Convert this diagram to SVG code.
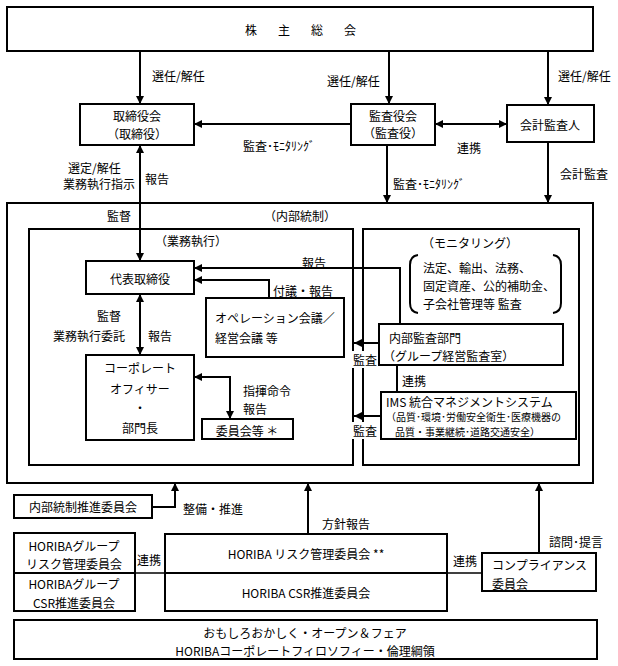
<svg xmlns="http://www.w3.org/2000/svg" width="618" height="666" viewBox="0 0 618 666">
<style>
.box{fill:#fff;stroke:#000;stroke-width:2}
.ln{fill:none;stroke:#000;stroke-width:2}
.thin{fill:none;stroke:#000;stroke-width:1.5}
.arr{marker-end:url(#ah)}
.dbl{marker-start:url(#ah);marker-end:url(#ah)}
text{font-family:'Noto Sans CJK JP','Noto Sans CJK SC',sans-serif;font-size:12px;fill:#000;dominant-baseline:central}
.c{text-anchor:middle}
.s{font-size:10px}
.bg{fill:#fff;stroke:none}
</style>
<defs>
<marker id="ah" viewBox="0 0 8 8" refX="8" refY="4" markerWidth="8" markerHeight="8" markerUnits="userSpaceOnUse" orient="auto-start-reverse"><path d="M0,0 L8,4 L0,8 z" fill="#000"/></marker>
</defs>
<rect width="618" height="666" fill="#fff"/>

<g id="internal-control"><rect class="box" x="7" y="203" width="586" height="280"/><text class="c" x="300" y="215">（内部統制）</text></g>
<g id="execution"><rect class="box" x="29" y="229" width="324" height="236"/><text class="c" x="191" y="240">（業務執行）</text></g>
<g id="monitoring"><rect class="box" x="363" y="229" width="216" height="236"/><text class="c" x="470" y="242">（モニタリング）</text>
<path class="ln" d="M418,255 Q410,256 410,265 V303 Q410,312 418,313"/>
<path class="ln" d="M553,255 Q561,256 561,265 V303 Q561,312 553,313"/>
<text x="423" y="267">法定、輸出、法務、</text>
<text x="423" y="285">固定資産、公的補助金、</text>
<text x="423" y="303">子会社管理等 監査</text>
</g>

<g id="shareholders"><rect class="box" x="7" y="7" width="586" height="44"/><text x="245" y="29" font-size="15" textLength="111" lengthAdjust="spacing">株 主 総 会</text></g>
<g id="board"><rect class="box" x="80" y="104" width="114" height="41"/><text class="c" x="137" y="115">取締役会</text><text class="c" x="137" y="133">（取締役）</text></g>
<g id="audit-board"><rect class="box" x="351" y="104" width="84" height="41"/><text class="c" x="393" y="115">監査役会</text><text class="c" x="393" y="132">（監査役）</text></g>
<g id="accounting-auditor"><rect class="box" x="507" y="105" width="87" height="37"/><text class="c" x="550" y="124">会計監査人</text></g>
<g id="representative"><rect class="box" x="86" y="261" width="108" height="33"/><text class="c" x="140" y="278">代表取締役</text></g>
<g id="operation-meeting"><rect class="box" x="206" y="298" width="138" height="59"/><text x="215" y="317">オペレーション会議／</text><text x="215" y="337">経営会議 等</text></g>
<g id="corporate-officer"><rect class="box" x="86" y="355" width="108" height="85"/><text class="c" x="140" y="367">コーポレート</text><text class="c" x="140" y="388">オフィサー</text><text class="c" x="140" y="407">・</text><text class="c" x="140" y="427">部門長</text></g>
<g id="committees"><rect class="box" x="202" y="419" width="91" height="20"/><text class="c" x="247" y="430">委員会等 ＊</text></g>
<g id="internal-audit"><rect class="box" x="379" y="324" width="184" height="41"/><text x="389" y="337">内部監査部門</text><text x="383" y="355">（グループ経営監査室）</text></g>
<g id="ims"><rect class="box" x="381" y="392" width="195" height="47"/><text x="386" y="401">IMS 統合マネジメントシステム</text><text class="s" x="386" y="416.5">（品質･環境･労働安全衛生･医療機器の</text><text class="s" x="395" y="431">品質・事業継続･道路交通安全）</text></g>

<g id="ic-promotion"><rect class="box" x="14" y="495" width="138" height="23"/><text class="c" x="83" y="506">内部統制推進委員会</text></g>
<g id="group-risk"><rect class="box" x="14" y="533" width="121" height="40"/><text class="c" x="74" y="545">HORIBAグループ</text><text class="c" x="74" y="563">リスク管理委員会</text></g>
<g id="group-csr"><rect class="box" x="14" y="573" width="121" height="38"/><text class="c" x="74" y="583">HORIBAグループ</text><text class="c" x="74" y="602">CSR推進委員会</text></g>
<g id="risk"><rect class="box" x="165" y="534" width="282" height="39"/><text class="c" x="306" y="553">HORIBA リスク管理委員会 **</text></g>
<g id="csr"><rect class="box" x="165" y="573" width="282" height="38"/><text class="c" x="306" y="592">HORIBA CSR推進委員会</text></g>
<g id="compliance"><rect class="box" x="482" y="553" width="114" height="38"/><text x="492" y="564">コンプライアンス</text><text x="492" y="583">委員会</text></g>
<g id="philosophy"><rect class="box" x="14" y="620" width="583" height="39"/><text class="c" x="305" y="632">おもしろおかしく・オープン＆フェア</text><text class="c" x="305" y="650">HORIBAコーポレートフィロソフィー・倫理綱領</text></g>

<g id="connectors">
<path class="ln arr" d="M140,51 V104"/>
<path class="ln arr" d="M389,51 V104"/>
<path class="ln arr" d="M548,51 V105"/>
<path class="ln arr" d="M351,124 H194"/>
<path class="ln dbl" d="M435,124 H507"/>
<path class="ln arr" d="M387,145 V203"/>
<path class="ln arr" d="M548,142 V203"/>
<path class="ln dbl" d="M140,145 V261"/>
<path class="ln arr" d="M400,324 V268 H194"/>
<path class="ln arr" d="M269,298 V280 H194"/>
<path class="ln dbl" d="M140,294 V355"/>
<path class="ln dbl" d="M194,377 H230 V419"/>
<path class="ln arr" d="M379,343 H354"/>
<path class="ln arr" d="M381,416 H354"/>
<path class="ln" d="M397,365 V392"/>
<path class="ln arr" d="M152,507 H175 V483"/>
<path class="ln arr" d="M308,534 V483"/>
<path class="ln arr" d="M539,553 V483"/>
<path class="thin" d="M135,573 H165"/>
<path class="thin" d="M447,573 H482"/>
</g>

<g id="labels">
<text x="152" y="75">選任/解任</text>
<text x="327" y="80">選任/解任</text>
<text x="558" y="75">選任/解任</text>
<text x="243" y="145">監査･ﾓﾆﾀﾘﾝｸﾞ</text>
<text x="457" y="147">連携</text>
<text x="393" y="183">監査･ﾓﾆﾀﾘﾝｸﾞ</text>
<text x="560" y="173">会計監査</text>
<text x="68" y="167">選定/解任</text>
<text x="63" y="183">業務執行指示</text>
<text x="145" y="178">報告</text>
<text x="107" y="215">監督</text>
<text x="302" y="262">報告</text>
<text x="273" y="290">付議・報告</text>
<text x="97" y="315">監督</text>
<text x="53" y="335">業務執行委託</text>
<text x="148" y="335">報告</text>
<text x="243" y="390">指揮命令</text>
<text x="243" y="408">報告</text>
<rect class="bg" x="351" y="351" width="27" height="17"/><text x="353" y="359">監査</text>
<rect class="bg" x="351" y="422" width="27" height="17"/><text x="353" y="430">監査</text>
<text x="402" y="380">連携</text>
<text x="183" y="508">整備・推進</text>
<text x="322" y="523">方針報告</text>
<text x="549" y="541">諮問･提言</text>
<text x="137" y="559">連携</text>
<text x="453" y="560">連携</text>
</g>
</svg>
